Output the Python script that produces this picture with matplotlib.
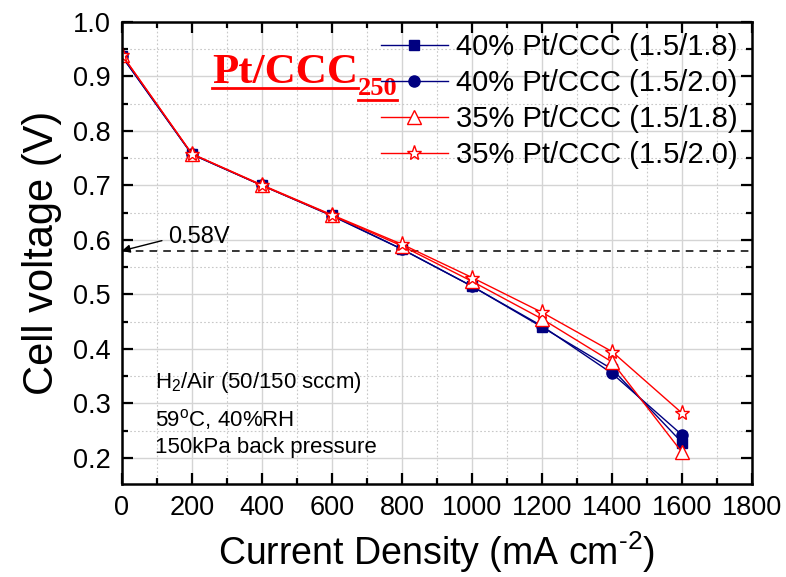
import matplotlib.pyplot as plt
from matplotlib.ticker import MultipleLocator
from matplotlib.lines import Line2D
from matplotlib.transforms import offset_copy

plt.rcParams['font.family'] = ['Liberation Sans', 'DejaVu Sans']
plt.rcParams['mathtext.fontset'] = 'custom'
plt.rcParams['mathtext.rm'] = 'Liberation Sans'

current = [0, 200, 400, 600, 800, 1000, 1200, 1400, 1600]
v40_18 = [0.937, 0.757, 0.700, 0.645, 0.583, 0.515, 0.440, 0.363, 0.228]
v40_20 = [0.937, 0.757, 0.700, 0.644, 0.583, 0.515, 0.442, 0.355, 0.242]
v35_18 = [0.940, 0.758, 0.700, 0.645, 0.589, 0.524, 0.455, 0.376, 0.210]
v35_20 = [0.940, 0.758, 0.701, 0.646, 0.592, 0.531, 0.467, 0.395, 0.282]
labels = ['40% Pt/CCC (1.5/1.8)', '40% Pt/CCC (1.5/2.0)',
          '35% Pt/CCC (1.5/1.8)', '35% Pt/CCC (1.5/2.0)']
ref_voltage = 0.58

navy = '#000080'
red = '#ff0000'

fig = plt.figure(figsize=(7.86, 5.77), dpi=100)
ax = fig.add_axes([0.155, 0.161, 0.802, 0.801])

ax.plot(current, v40_18, '-', color=navy, lw=1, marker='s', ms=7,
        mfc=navy, mec=navy, label=labels[0])
ax.plot(current, v40_20, '-', color=navy, lw=1, marker='o', ms=8,
        mfc=navy, mec=navy, label=labels[1])
ax.plot(current, v35_18, '-', color=red, lw=1, marker='^', ms=10,
        mfc='white', mec=red, mew=1, label=labels[2])
ax.plot(current, v35_20, '-', color=red, lw=1, marker='*', ms=11,
        mfc='white', mec=red, mew=1, label=labels[3])

ax.axhline(ref_voltage, color='black', ls=(0, (5, 4)), lw=1.1, zorder=1)
ax.annotate('0.58V', xy=(0, ref_voltage), xytext=(131, 0.606),
            fontsize=17, ha='left', va='center',
            arrowprops=dict(arrowstyle='-|>', color='black', lw=1,
                            mutation_scale=12, relpos=(-0.05, 0.35),
                            shrinkA=2, shrinkB=0))

ax.set_xlim(0, 1800)
ax.set_ylim(0.152, 1.0)
ax.xaxis.set_major_locator(MultipleLocator(200))
ax.xaxis.set_minor_locator(MultipleLocator(100))
ax.yaxis.set_major_locator(MultipleLocator(0.1))
ax.yaxis.set_minor_locator(MultipleLocator(0.05))
ax.grid(which='major', color='#d4d4d4', lw=1, ls='-')
ax.grid(which='minor', color='#c8c8c8', lw=0.8, ls=(0, (1.5, 2)))
ax.set_axisbelow(True)
ax.tick_params(which='both', direction='in', top=True, right=True,
               labelsize=19.5, width=1.6, pad=8)
ax.tick_params(which='major', length=8)
ax.tick_params(which='minor', length=4)
for sp in ax.spines.values():
    sp.set_linewidth(1.8)

ax.set_xlabel('Current Density (mA cm$^{\u2010 2}$)', fontsize=27, labelpad=6)
ax.set_ylabel('Cell voltage (V)', fontsize=30, labelpad=8)

ax.legend(loc='upper right', bbox_to_anchor=(1.01, 1.02), frameon=False,
          fontsize=21, handlelength=2.3, handletextpad=0.3,
          labelspacing=0.27, borderaxespad=0.3)

# operating conditions
ax.text(94, 0.338, 'H$_2$/Air (50/150 sccm)', fontsize=16, va='center')
ax.text(94, 0.270, '59$^{\\mathrm{o}}$C, 40%RH', fontsize=16, va='center')
ax.text(94, 0.220, '150kPa back pressure', fontsize=16, va='center')

# underlined catalyst title with subscript
title = ax.text(257, 0.888, 'Pt/CCC', fontsize=31, color=red,
                family='Liberation Serif', weight='bold', va='baseline')
fig.canvas.draw()
renderer = fig.canvas.get_renderer()
bb = title.get_window_extent(renderer)
inv = ax.transData.inverted()
x_end = inv.transform((bb.x1, 0))[0]
sub_tr = offset_copy(ax.transData, fig=fig, x=0, y=-12, units='dots')
sub = ax.text(x_end, 0.888, '250', fontsize=19, color=red,
              family='Liberation Serif', weight='bold', va='baseline',
              transform=sub_tr)
fig.canvas.draw()
sbb = sub.get_window_extent(renderer)
base_y = ax.transData.transform((0, 0.888))[1]
fig.add_artist(Line2D([bb.x0, bb.x1], [base_y - 5, base_y - 5],
                      color=red, lw=2, transform=None))
fig.add_artist(Line2D([sbb.x0, sbb.x1], [base_y - 17, base_y - 17],
                      color=red, lw=2, transform=None))

fig.savefig('out.png', dpi=100)
